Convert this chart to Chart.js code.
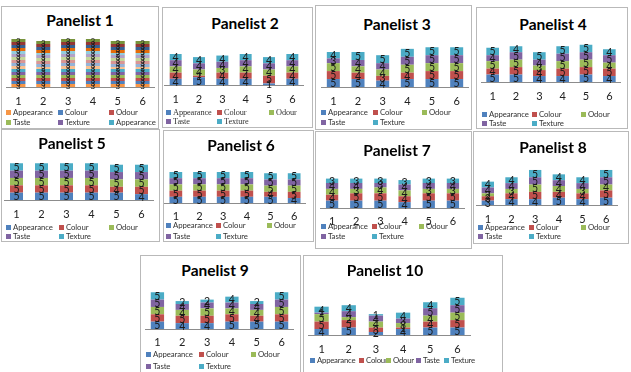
<!DOCTYPE html>
<html>
<head>
<meta charset="utf-8">
<script src="https://cdn.jsdelivr.net/npm/chart.js@4.4.1/dist/chart.umd.min.js"></script>
<style>
  body { margin: 0; width: 631px; height: 372px; background: #fff; overflow: hidden; position: relative; font-family: Lato, "Open Sans", sans-serif; }
  .box { position: absolute; border: 1px solid #b9b9b9; box-sizing: border-box; background: #fff; }
  .title { position: absolute; transform: translate(-50%, -50%); font-weight: bold; font-size: 15.5px; white-space: nowrap; color: #000; }
  .leg { position: absolute; transform: translateY(-50%); font-size: 7.8px; letter-spacing: -0.1px; white-space: nowrap; color: #333; line-height: 10px; }
  .leg i { display: inline-block; width: 5px; height: 5px; margin-right: 2px; vertical-align: 0px; }
  .serif { font-family: "Liberation Serif", "DejaVu Serif", serif; font-size: 8.3px; letter-spacing: -0.1px; }
  .tight { letter-spacing: -0.25px; }
  canvas { position: absolute; }
</style>
</head>
<body>
<script>
// x categories (tasting sessions) and sensory attributes
const categories = ['1', '2', '3', '4', '5', '6'];
const attributes = ['Appearance', 'Colour', 'Odour', 'Taste', 'Texture'];
const attrColors = ['#4F81BD', '#C0504D', '#9BBB59', '#8064A2', '#4BACC6'];

// panelist 1 - many stacked series (excel spilled the whole sheet in)
const panelist1 = [
  [3, 3, 3, 3, 3, 3], [3, 3, 3, 3, 3, 3], [3, 3, 3, 3, 3, 3], [3, 3, 3, 3, 3, 3],
  [3, 3, 3, 3, 3, 3], [3, 3, 3, 3, 3, 3], [3, 2, 3, 3, 2, 2], [3, 3, 3, 3, 3, 3],
  [3, 3, 3, 3, 3, 3], [3, 3, 3, 3, 3, 3], [3, 3, 3, 3, 3, 3], [3, 2, 3, 3, 2, 2],
  [3, 3, 3, 3, 3, 3], [3, 3, 3, 3, 3, 3], [3, 3, 3, 3, 3, 3], [3, 3, 3, 3, 3, 3]
];
const panelist1Colors = [
  '#F79646', '#4F81BD', '#C0504D', '#9BBB59', '#8064A2', '#4BACC6',
  '#FAC090', '#95B3D7', '#D99694', '#C3D69B', '#B3A2C7', '#93CDDD',
  '#E46C0A', '#376092', '#953735', '#77933C'
];

// panelists 2-10: rows = Appearance, Colour, Odour, Taste, Texture
const panelist2 = [[4, 5, 4, 4, 1, 4], [4, 1, 4, 4, 5, 4], [4, 4, 3, 4, 4, 4], [4, 4, 4, 4, 4, 4], [4, 4, 4, 4, 4, 4]];
const panelist3 = [[5, 5, 4, 5, 5, 5], [5, 4, 3, 4, 5, 5], [5, 4, 4, 5, 5, 5], [3, 4, 4, 5, 5, 5], [4, 5, 5, 5, 5, 5]];
const panelist4 = [[5, 5, 4, 4, 5, 4], [4, 5, 4, 5, 5, 5], [5, 5, 3, 5, 5, 4], [4, 5, 4, 5, 5, 5], [5, 4, 5, 5, 5, 4]];
const panelist5 = [[5, 5, 5, 5, 5, 4], [5, 5, 5, 5, 4, 5], [5, 5, 5, 5, 5, 5], [5, 5, 5, 5, 5, 5], [5, 5, 5, 5, 5, 5]];
const panelist6 = [[5, 5, 5, 5, 5, 4], [5, 5, 5, 5, 4, 5], [5, 5, 5, 5, 5, 5], [5, 5, 5, 5, 5, 5], [5, 5, 5, 5, 5, 5]];
const panelist7 = [[5, 5, 5, 4, 5, 5], [4, 5, 5, 4, 5, 5], [4, 3, 4, 4, 3, 3], [4, 4, 3, 4, 4, 4], [3, 3, 3, 3, 3, 3]];
const panelist8 = [[3, 4, 4, 5, 4, 5], [3, 4, 5, 4, 4, 5], [2, 3, 5, 4, 3, 4], [4, 4, 5, 4, 4, 5], [4, 4, 5, 4, 4, 5]];
const panelist9 = [[5, 4, 4, 5, 5, 5], [5, 5, 5, 5, 4, 5], [5, 4, 5, 4, 4, 5], [5, 4, 4, 4, 4, 5], [5, 2, 2, 4, 2, 5]];
const panelist10 = [[4, 5, 2, 4, 5, 5], [5, 5, 3, 1, 4, 5], [5, 2, 4, 3, 4, 5], [1, 4, 4, 3, 5, 5], [4, 4, 1, 4, 4, 5]];

// layout of each little chart on the page
const panels = [
  { title: 'Panelist 1', data: panelist1, colors: panelist1Colors, box: [1, 6, 158, 123], tx: 80, ty: 20,
    c1: 18, step: 24.8, barW: 14, base: 87, ppu: 1.0, tickY: 100, labelFont: 8,
    legRows: [112, 122], legCols: [6, 58, 109], legNames: ['Appearance', 'Colour', 'Odour', 'Taste', 'Texture', 'Appearance'],
    legColors: ['#F79646', '#4F81BD', '#C0504D', '#9BBB59', '#8064A2', '#4BACC6'] },
  { title: 'Panelist 2', data: panelist2, box: [162, 7, 151, 121], tx: 245, ty: 23,
    c1: 175.5, step: 23.4, barW: 12, base: 85, ppu: 1.55, tickY: 98, serif: true,
    legRows: [113, 122], legCols: [166, 217, 269] },
  { title: 'Panelist 3', data: panelist3, box: [315, 5, 157, 125], tx: 397, ty: 24,
    c1: 333, step: 24.6, barW: 13, base: 87, ppu: 1.59, tickY: 100,
    legRows: [112, 122], legCols: [321, 373, 422] },
  { title: 'Panelist 4', data: panelist4, box: [476, 7, 152, 122], tx: 553, ty: 24,
    c1: 493, step: 23.4, barW: 12.7, base: 82, ppu: 1.49, tickY: 95,
    legRows: [114, 123], legCols: [482, 532, 581] },
  { title: 'Panelist 5', data: panelist5, box: [1, 129, 159, 113], tx: 72, ty: 143,
    c1: 16, step: 25, barW: 13, base: 200, ppu: 1.47, tickY: 213,
    legRows: [227, 236], legCols: [6, 59, 109] },
  { title: 'Panelist 6', data: panelist6, box: [163, 130, 151, 112], tx: 241, ty: 145,
    c1: 176, step: 23.6, barW: 12.7, base: 203, ppu: 1.24, tickY: 215,
    legRows: [225, 236], legCols: [166, 216, 267] },
  { title: 'Panelist 7', data: panelist7, box: [315, 131, 157, 118], tx: 397, ty: 150,
    c1: 332, step: 24.2, barW: 12.3, base: 208, ppu: 1.47, tickY: 220,
    legRows: [226, 236], legCols: [321, 372, 419] },
  { title: 'Panelist 8', data: panelist8, box: [473, 131, 156, 113], tx: 553, ty: 147,
    c1: 488, step: 23.6, barW: 12.3, base: 205, ppu: 1.46, tickY: 218,
    legRows: [227, 236], legCols: [478, 529, 581] },
  { title: 'Panelist 9', data: panelist9, box: [140, 255, 161, 118], tx: 215, ty: 270,
    c1: 157, step: 24.8, barW: 13.3, base: 329, ppu: 1.47, tickY: 341,
    legRows: [354, 366], legCols: [146, 199, 251] },
  { title: 'Panelist 10', data: panelist10, box: [303, 255, 200, 118], tx: 385, ty: 270,
    c1: 322, step: 27.2, barW: 14.3, base: 335, ppu: 1.49, tickY: 348,
    legRows: [360], legCols: [310, 359, 386, 416, 444], oneRow: true }
];

// write the value in the middle of each stacked segment
const segmentLabels = {
  id: 'segmentLabels',
  afterDatasetsDraw(chart, args, opts) {
    const ctx = chart.ctx;
    ctx.save();
    ctx.font = opts.size + 'px Lato, sans-serif';
    ctx.fillStyle = '#1a1a1a';
    ctx.textAlign = 'center';
    ctx.textBaseline = 'middle';
    chart.data.datasets.forEach((ds, i) => {
      chart.getDatasetMeta(i).data.forEach((bar, j) => {
        const v = ds.data[j];
        if (!v) return;
        ctx.fillText(String(v), bar.x, (bar.y + bar.base) / 2 + 0.5);
      });
    });
    ctx.restore();
  }
};

function addDiv(cls, html, css) {
  const d = document.createElement('div');
  d.className = cls;
  d.innerHTML = html;
  Object.assign(d.style, css);
  document.body.appendChild(d);
  return d;
}

panels.forEach(p => {
  const [bx, by, bw, bh] = p.box;
  addDiv('box', '', { left: bx + 'px', top: by + 'px', width: bw + 'px', height: bh + 'px' });
  addDiv('title', p.title, { left: p.tx + 'px', top: p.ty + 'px' });

  const colors = p.colors || attrColors;
  const totals = categories.map((c, j) => p.data.reduce((s, row) => s + row[j], 0));
  const plotH = Math.ceil(Math.max(...totals) * p.ppu) + 4;
  const axisH = 24;
  const width = p.step * categories.length;

  const cv = document.createElement('canvas');
  cv.width = Math.round(width);
  cv.height = plotH + axisH;
  cv.style.left = (p.c1 - p.step / 2) + 'px';
  cv.style.top = (p.base - plotH) + 'px';
  document.body.appendChild(cv);

  new Chart(cv.getContext('2d'), {
    type: 'bar',
    data: {
      labels: categories,
      datasets: p.data.map((row, i) => ({
        label: p.legNames ? attributes[i % 5] : attributes[i],
        data: row,
        backgroundColor: colors[i],
        borderWidth: 0,
        categoryPercentage: 1,
        barPercentage: p.barW / p.step
      }))
    },
    options: {
      responsive: false,
      animation: false,
      layout: { padding: 0 },
      plugins: {
        legend: { display: false },
        tooltip: { enabled: false },
        segmentLabels: { size: p.labelFont || 10.5 }
      },
      scales: {
        x: {
          stacked: true,
          grid: { display: false, drawTicks: false },
          border: { display: true, color: '#8c8c8c', width: 1 },
          ticks: { color: '#222', font: { family: 'Lato', size: 11 }, padding: Math.round(p.tickY - p.base - 4.6) },
          afterFit: s => { s.height = axisH; }
        },
        y: {
          stacked: true,
          display: false,
          min: 0,
          max: plotH / p.ppu
        }
      }
    },
    plugins: [segmentLabels]
  });

  // excel style legend, laid out in columns
  const names = p.legNames || attributes;
  const legColors = p.legColors || attrColors;
  names.forEach((name, i) => {
    let x, y;
    if (p.oneRow) { x = p.legCols[i]; y = p.legRows[0]; }
    else { x = p.legCols[i % 3]; y = p.legRows[Math.floor(i / 3)]; }
    const cls = 'leg' + (p.serif ? ' serif' : '') + (p.oneRow ? ' tight' : '');
    addDiv(cls, '<i style="background:' + legColors[i] + '"></i>' + name,
      { left: x + 'px', top: y + 'px' });
  });
});
</script>
</body>
</html>
